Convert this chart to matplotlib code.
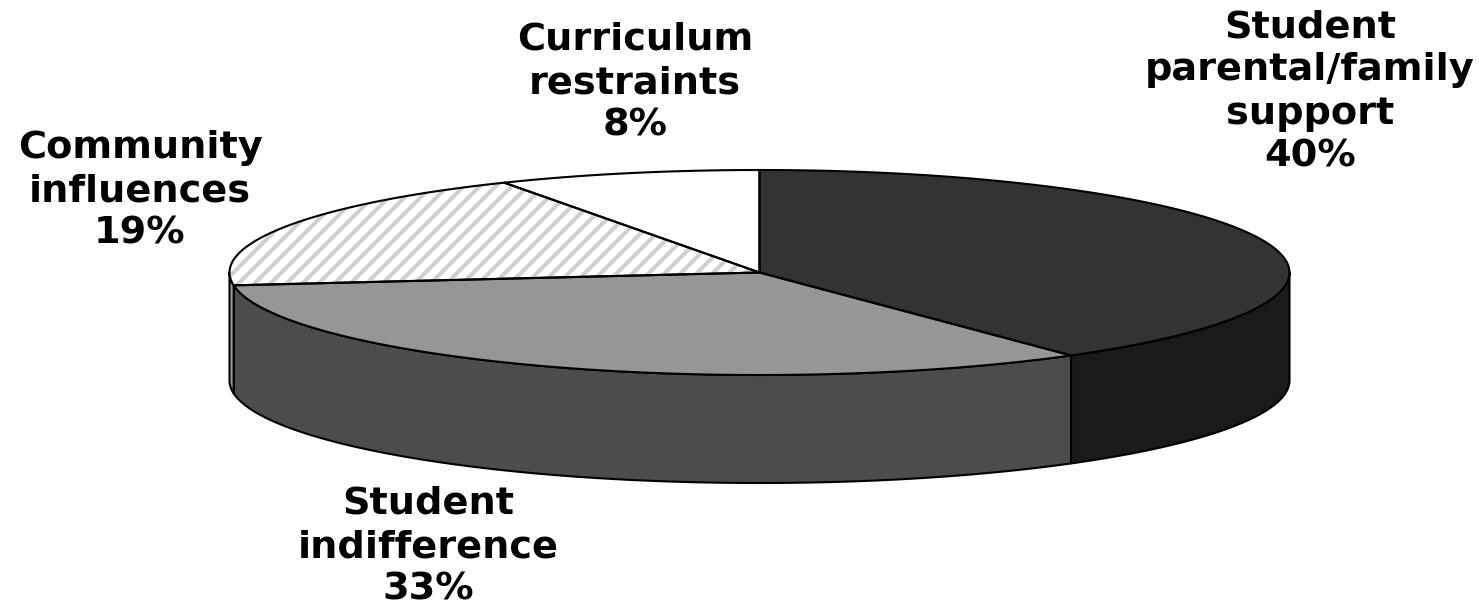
import matplotlib
matplotlib.use('Agg')
import matplotlib.pyplot as plt
from matplotlib.patches import Polygon
import numpy as np

labels = ['Student\nparental/family\nsupport\n40%', 'Student\nindifference\n33%',
          'Community\ninfluences\n19%', 'Curriculum\nrestraints\n8%']
shares = [40, 33, 19, 8]
top_colors = ['#333333', '#969696', '#ffffff', '#ffffff']
side_colors = ['#1a1a1a', '#4c4c4c', '#9a9a9a', '#ffffff']
label_pos = [(1310, 92), (428, 547), (140, 191), (635, 83)]

# pie geometry in pixels
cx, cy = 759.5, 272.5
rx, ry = 530, 102.5
depth = 108
edge = '#000000'
lw = 1.5

def rim(a, drop=0):
    # a is degrees clockwise from 12 o'clock
    a = np.radians(a)
    return np.column_stack((cx + rx * np.sin(a), cy - ry * np.cos(a) + drop))

fig = plt.figure(figsize=(14.79, 6.07), dpi=100)
ax = fig.add_axes([0, 0, 1, 1])
ax.set_xlim(0, 1479)
ax.set_ylim(607, 0)
ax.axis('off')

edges = np.cumsum([0] + shares) * 3.6

# side wall only shows on the front half
for i in range(len(shares)):
    a0, a1 = max(edges[i], 90), min(edges[i + 1], 270)
    if a0 >= a1:
        continue
    arc = np.linspace(a0, a1, 200)
    pts = np.vstack((rim(arc), rim(arc[::-1], depth)))
    ax.add_patch(Polygon(pts, closed=True, fc=side_colors[i], ec=edge, lw=lw, joinstyle='round'))

# top face
for i in range(len(shares)):
    arc = np.linspace(edges[i], edges[i + 1], 200)
    pts = np.vstack(([[cx, cy]], rim(arc)))
    p = Polygon(pts, closed=True, fc=top_colors[i], ec='none', zorder=3)
    ax.add_patch(p)
    if i == 2:
        # diagonal stripes for the community slice
        for c in np.arange(0, 1300, 16):
            ln, = ax.plot([c - 300, c], [300 + 170, 170], color='#d0d0d0', lw=3.0, zorder=3.5,
                          solid_capstyle='butt')
            ln.set_clip_path(p)
    ax.add_patch(Polygon(pts, closed=True, fc='none', ec=edge, lw=lw, joinstyle='round', zorder=4))

for lab, (x, y) in zip(labels, label_pos):
    ax.text(x, y, lab, ha='center', va='center', family='DejaVu Sans', fontweight='bold',
            fontsize=27.5, linespacing=1.25, color='black')

fig.savefig('out.png', dpi=100, facecolor='white')
